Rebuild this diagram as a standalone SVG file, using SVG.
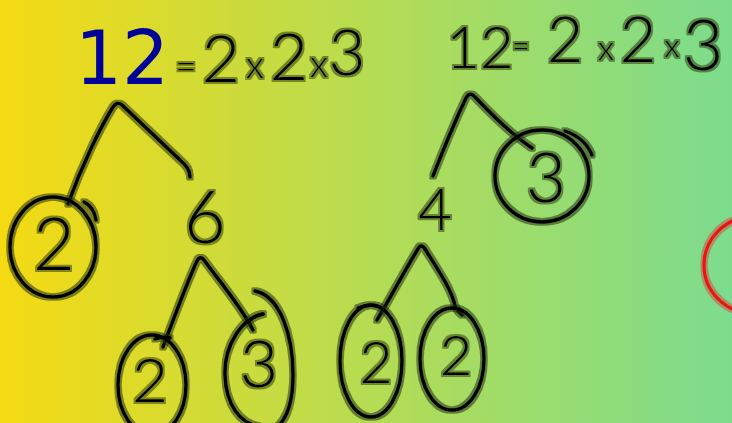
<svg xmlns="http://www.w3.org/2000/svg" width="732" height="423" viewBox="0 0 732 423">
<defs>
<linearGradient id="bg" x1="0" y1="0" x2="1" y2="0">
<stop offset="0" stop-color="#f5da12"/>
<stop offset="0.5" stop-color="#b6dc52"/>
<stop offset="1" stop-color="#7cdc8e"/>
</linearGradient>
<filter id="halo" x="-20%" y="-20%" width="140%" height="140%">
<feMorphology in="SourceAlpha" operator="dilate" radius="2.2" result="d"/>
<feGaussianBlur in="d" stdDeviation="0.7" result="b"/>
<feFlood flood-color="#23320c" flood-opacity="0.55"/>
<feComposite in2="b" operator="in" result="h"/>
<feMerge><feMergeNode in="h"/><feMergeNode in="SourceGraphic"/></feMerge>
</filter>
<filter id="haloT" x="-20%" y="-20%" width="140%" height="140%">
<feMorphology in="SourceAlpha" operator="dilate" radius="1.6" result="d"/>
<feGaussianBlur in="d" stdDeviation="0.6" result="b"/>
<feFlood flood-color="#23320c" flood-opacity="0.5"/>
<feComposite in2="b" operator="in" result="h"/>
<feMerge><feMergeNode in="h"/><feMergeNode in="SourceGraphic"/></feMerge>
</filter>
<filter id="halor" x="-20%" y="-20%" width="140%" height="140%">
<feMorphology in="SourceAlpha" operator="dilate" radius="2" result="d"/>
<feGaussianBlur in="d" stdDeviation="0.7" result="b"/>
<feFlood flood-color="#d84040" flood-opacity="0.5"/>
<feComposite in2="b" operator="in" result="h"/>
<feMerge><feMergeNode in="h"/><feMergeNode in="SourceGraphic"/></feMerge>
</filter>
</defs>
<style>
.ink{fill:none;stroke:#000;stroke-width:3.4;stroke-linecap:round;stroke-linejoin:round}
.hw{font-family:Lato,"Liberation Sans",Arial,sans-serif;font-weight:300;fill:#000;text-anchor:middle}
.red{fill:none;stroke:#e8140e;stroke-width:3.2}
</style>
<rect x="0" y="0" width="732" height="423" fill="url(#bg)"/>

<g id="title-left">
<text x="75" y="84" font-family="DejaVu Sans, Verdana, sans-serif" font-size="74" fill="#00009a">12</text>
<g filter="url(#haloT)">
<text class="hw"><tspan x="186" y="79" font-size="36">=</tspan><tspan x="221" y="82" font-size="66">2</tspan><tspan x="255" y="78" font-size="38">x</tspan><tspan x="289" y="80" font-size="66">2</tspan><tspan x="319" y="77" font-size="38">x</tspan><tspan x="347" y="75" font-size="63">3</tspan></text>
</g>
</g>

<g id="title-right" filter="url(#haloT)">
<text class="hw"><tspan x="480" y="68" font-size="58">12</tspan><tspan x="521" y="56" font-size="30">=</tspan><tspan x="565" y="62" font-size="63">2</tspan><tspan x="606" y="60" font-size="34">x</tspan><tspan x="638" y="62" font-size="63">2</tspan><tspan x="672" y="57" font-size="32">x</tspan><tspan x="703" y="70" font-size="70">3</tspan></text>
</g>

<g id="connectors" filter="url(#halo)">
<path class="ink" d="M68,204 C82,165 100,128 113,107 Q117,101 122,105 L180,160 Q190,168 190,177"/>
<path class="ink" d="M163,347 C175,315 188,280 197,261 Q200,255 204,260 C220,282 240,305 253,330"/>
<path class="ink" d="M433,176 C445,145 458,115 466,98 Q470,91 475,97 C492,115 512,135 532,148"/>
<path class="ink" d="M377,320 C392,295 406,268 418,249 Q421,243 425,249 C437,268 452,290 455,306 Q458,312 462,315"/>
</g>

<g id="node-2a">
<g filter="url(#halo)">
<ellipse class="ink" cx="53" cy="247" rx="43" ry="50"/>
<path class="ink" d="M84,202 Q94,207 96,220"/>
</g>
<text class="hw" x="54" y="270" font-size="72" filter="url(#haloT)">2</text>
</g>

<g id="node-6" filter="url(#haloT)">
<text class="hw" x="205" y="243" font-size="72">6</text>
</g>

<g id="node-2b">
<g filter="url(#halo)">
<ellipse class="ink" cx="152" cy="385" rx="34" ry="50"/>
<path class="ink" d="M155,339 Q163,336 170,338"/>
</g>
<text class="hw" x="150" y="402" font-size="62" filter="url(#haloT)">2</text>
</g>

<g id="node-3b">
<g filter="url(#halo)">
<path class="ink" d="M263,314 C242,318 224,345 225,375 C226,405 240,423 258,426"/>
<path class="ink" d="M255,291 C280,296 293,335 293,375 C293,405 286,420 276,428"/>
<path class="ink" d="M248,322 Q255,315 263,314"/>
</g>
<text class="hw" x="259" y="387" font-size="66" filter="url(#haloT)">3</text>
</g>

<g id="node-3a">
<g filter="url(#halo)">
<ellipse class="ink" cx="542" cy="176" rx="47" ry="46"/>
<path class="ink" d="M565,131 Q585,138 592,155"/>
</g>
<text class="hw" x="546" y="202" font-size="69" filter="url(#haloT)">3</text>
</g>

<g id="node-4" filter="url(#haloT)">
<text class="hw" x="435" y="230" font-size="58">4</text>
</g>

<g id="node-2c">
<g filter="url(#halo)">
<ellipse class="ink" cx="371" cy="361" rx="31" ry="56"/>
<path class="ink" d="M358,308 Q370,303 380,307"/>
</g>
<text class="hw" x="376" y="383" font-size="57" filter="url(#haloT)">2</text>
</g>

<g id="node-2d">
<g filter="url(#halo)">
<ellipse class="ink" cx="452" cy="359" rx="32" ry="51"/>
</g>
<text class="hw" x="456" y="375" font-size="56" filter="url(#haloT)">2</text>
</g>

<g id="red-mark" filter="url(#halor)">
<ellipse class="red" cx="752" cy="265" rx="48" ry="48"/>
</g>
</svg>
